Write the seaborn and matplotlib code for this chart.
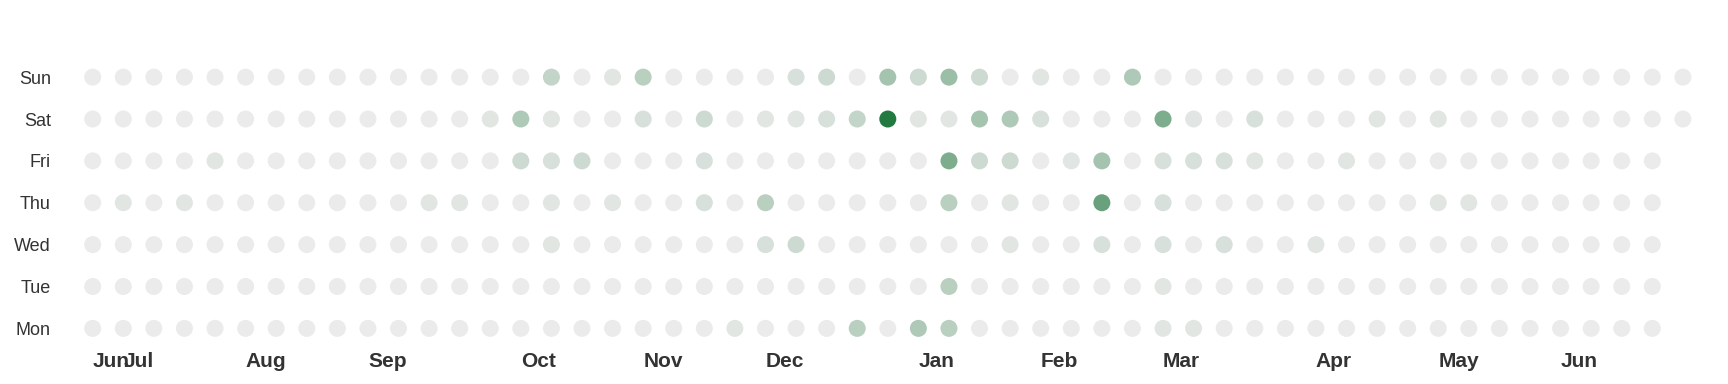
import pandas as pd
import seaborn as sns
import matplotlib.pyplot as plt
from matplotlib.colors import LinearSegmentedColormap

# one year of daily activity, weeks counted from the first day (a Saturday)
start = '2017-06-24'
end = '2018-06-24'
day_names = ['Mon', 'Tue', 'Wed', 'Thu', 'Fri', 'Sat', 'Sun']

# values per weekday, one entry per week column
mon = [0, 0, 0, 0, 0, 0, 0, 0, 0, 0,
       0, 0, 0, 0, 0, 0, 0, 0, 0, 0,
       0, 1, 0, 0, 0, 5, 0, 6, 5, 0,
       0, 0, 0, 0, 0, 1, 1, 0, 0, 0,
       0, 0, 0, 0, 0, 0, 0, 0, 0, 0,
       0, 0]
tue = [0, 0, 0, 0, 0, 0, 0, 0, 0, 0,
       0, 0, 0, 0, 0, 0, 0, 0, 0, 0,
       0, 0, 0, 0, 0, 0, 0, 0, 5, 0,
       0, 0, 0, 0, 0, 1, 0, 0, 0, 0,
       0, 0, 0, 0, 0, 0, 0, 0, 0, 0,
       0, 0]
wed = [0, 0, 0, 0, 0, 0, 0, 0, 0, 0,
       0, 0, 0, 0, 0, 1, 0, 0, 0, 0,
       0, 0, 2, 3, 0, 0, 0, 0, 0, 0,
       1, 0, 0, 2, 0, 2, 0, 2, 0, 0,
       1, 0, 0, 0, 0, 0, 0, 0, 0, 0,
       0, 0]
thu = [0, 1, 0, 1, 0, 0, 0, 0, 0, 0,
       0, 1, 1, 0, 0, 1, 0, 1, 0, 0,
       2, 0, 5, 0, 0, 0, 0, 0, 5, 0,
       1, 0, 0, 13, 0, 2, 0, 0, 0, 0,
       0, 0, 0, 0, 1, 1, 0, 0, 0, 0,
       0, 0]
fri = [0, 0, 0, 0, 1, 0, 0, 0, 0, 0,
       0, 0, 0, 0, 3, 2, 3, 0, 0, 0,
       2, 0, 0, 0, 0, 0, 0, 0, 11, 3,
       3, 0, 1, 7, 0, 2, 2, 2, 1, 0,
       0, 1, 0, 0, 0, 0, 0, 0, 0, 0,
       0, 0]
sat = [0, 0, 0, 0, 0, 0, 0, 0, 0, 0,
       0, 0, 0, 1, 6, 1, 0, 0, 2, 0,
       3, 0, 1, 1, 2, 4, 20, 1, 1, 7,
       6, 2, 0, 0, 0, 11, 1, 0, 2, 0,
       0, 0, 1, 0, 1, 0, 0, 0, 0, 0,
       0, 0, 0]
sun = [0, 0, 0, 0, 0, 0, 0, 0, 0, 0,
       0, 0, 0, 0, 0, 4, 0, 1, 5, 0,
       0, 0, 0, 2, 3, 0, 7, 3, 8, 3,
       0, 1, 0, 0, 6, 0, 0, 0, 0, 0,
       0, 0, 0, 0, 0, 0, 0, 0, 0, 0,
       0, 0, 0]
rows = [mon, tue, wed, thu, fri, sat, sun]

dates = pd.date_range(start, end, freq='D')
data = pd.DataFrame({'date': dates})
data['week'] = (data['date'] - data['date'][0]).dt.days // 7
data['day'] = data['date'].dt.dayofweek
data['value'] = [rows[d][w] for d, w in zip(data['day'], data['week'])]

# month labels sit at the week of the 1st of each month (plus the first week)
firsts = data.groupby([data['date'].dt.year, data['date'].dt.month]).first()
month_weeks = list(firsts['week'])
month_labels = list(firsts['date'].dt.strftime('%b'))

sns.set_style('white')
plt.rcParams['font.family'] = ['Liberation Sans', 'DejaVu Sans']

cmap = LinearSegmentedColormap.from_list('act', ['#ebebeb', '#237a40'])

fig = plt.figure(figsize=(17.28, 3.84), dpi=100)
ax = fig.add_axes([74.35 / 1728, 34.7 / 384, 1626.9 / 1728, 293.1 / 384])
sns.scatterplot(data=data, x='week', y='day', hue='value', palette=cmap,
                hue_norm=(0, 20), s=150, linewidth=0, legend=False, ax=ax)

ax.set_xlim(-0.6, 52.6)
ax.set_ylim(-0.5, 6.5)
ax.set_yticks(range(7), day_names)
ax.set_xticks(month_weeks, month_labels, ha='left', fontweight='bold')
ax.tick_params(axis='y', length=0, pad=17, labelsize=13, labelcolor='#333333')
ax.tick_params(axis='x', length=0, pad=2, labelsize=15, labelcolor='#333333')
ax.set_xlabel('')
ax.set_ylabel('')
sns.despine(left=True, bottom=True)

plt.savefig('out.png', dpi=100)
